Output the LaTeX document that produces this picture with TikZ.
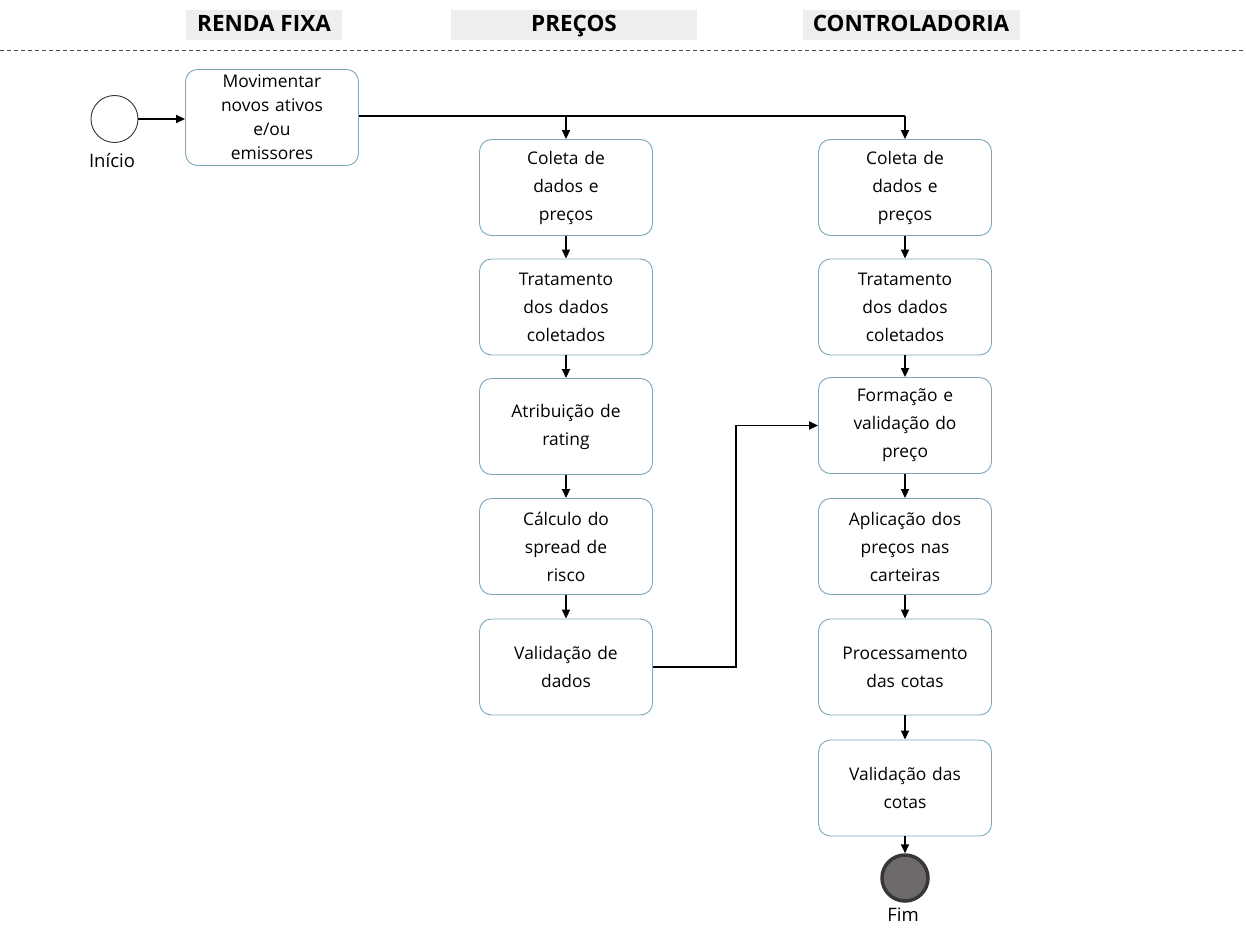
\documentclass[tikz,border=0pt]{standalone}
\usepackage{fontspec}
\setmainfont{Open Sans}
\usetikzlibrary{arrows.meta}
\definecolor{boxline}{RGB}{125,165,185}
\definecolor{hdrbg}{RGB}{238,238,238}
\definecolor{endfill}{RGB}{110,106,107}
\definecolor{enddraw}{RGB}{55,55,55}
\tikzset{
  task/.style={draw=boxline, line width=0.9pt, rounded corners=12pt, minimum width=173pt, minimum height=96pt, align=center, font=\fontsize{17.4}{28}\selectfont, inner sep=2pt, text width=165pt},
  hdr/.style={fill=hdrbg, font=\bfseries\fontsize{22.5}{24}\selectfont, minimum height=30pt, inner sep=0pt, text height=16.5pt, text depth=3.5pt},
  conn/.style={line width=1.8pt, -{Triangle[length=9pt,width=8pt]}},
  lbl/.style={font=\fontsize{18.5}{20}\selectfont}
}
\begin{document}
\begin{tikzpicture}[x=1pt,y=-1pt]
\useasboundingbox (0,0) rectangle (1246,928);
% headers
\node[hdr, minimum width=156pt] (h1) at (264,25) {RENDA FIXA};
\node[hdr, minimum width=246pt] (h2) at (574,25) {PREÇOS};
\node[hdr, minimum width=217pt] (h3) at (911,25) {CONTROLADORIA};
\draw[dashed, dash pattern=on 4pt off 3pt, line width=0.7pt, black!70] (0,50) -- (1246,50);
% start
\node[circle, draw=black!80, line width=0.9pt, minimum size=47pt, inner sep=0pt] (start) at (114.5,119) {};
\node[lbl] (startl) at (112,161) {Início};
\node[task, font=\fontsize{17.4}{24}\selectfont] (mov) at (272,117.5) {Movimentar\\novos ativos\\e/ou\\emissores};
% precos column
\node[task] (p1) at (566,187.5) {Coleta de\\dados e\\preços};
\node[task] (p2) at (566,307) {Tratamento\\dos dados\\coletados};
\node[task] (p3) at (566,426.5) {Atribuição de\\rating};
\node[task] (p4) at (566,546.5) {Cálculo do\\spread de\\risco};
\node[task] (p5) at (566,667) {Validação de\\dados};
% controladoria column
\node[task] (c1) at (905,187.5) {Coleta de\\dados e\\preços};
\node[task] (c2) at (905,307) {Tratamento\\dos dados\\coletados};
\node[task] (c3) at (905,425.5) {Formação e\\validação do\\preço};
\node[task] (c4) at (905,546.5) {Aplicação dos\\preços nas\\carteiras};
\node[task] (c5) at (905,667) {Processamento\\das cotas};
\node[task] (c6) at (905,788) {Validação das\\cotas};
\node[circle, draw=enddraw, fill=endfill, line width=3.5pt, minimum size=46pt, inner sep=0pt] (end) at (905,878) {};
\node[lbl] (endl) at (903,915) {Fim};
% connectors
\draw[conn] (start.east) -- (start.east -| mov.west);
\coordinate (j1) at (566,116);
\coordinate (j2) at (905,116);
\draw[line width=1.8pt] (mov.east |- j1) -- (j2);
\draw[conn] (j1) -- (p1.north);
\draw[conn] (j2) -- (c1.north);
\draw[conn] (p1) -- (p2);
\draw[conn] (p2) -- (p3);
\draw[conn] (p3) -- (p4);
\draw[conn] (p4) -- (p5);
\draw[conn] (c1) -- (c2);
\draw[conn] (c2) -- (c3);
\draw[conn] (c3) -- (c4);
\draw[conn] (c4) -- (c5);
\draw[conn] (c5) -- (c6);
\draw[conn] (c6) -- (end);
\coordinate (k) at (736,667);
\draw[conn] (p5.east) -- (k) |- (c3.west);
\end{tikzpicture}
\end{document}
